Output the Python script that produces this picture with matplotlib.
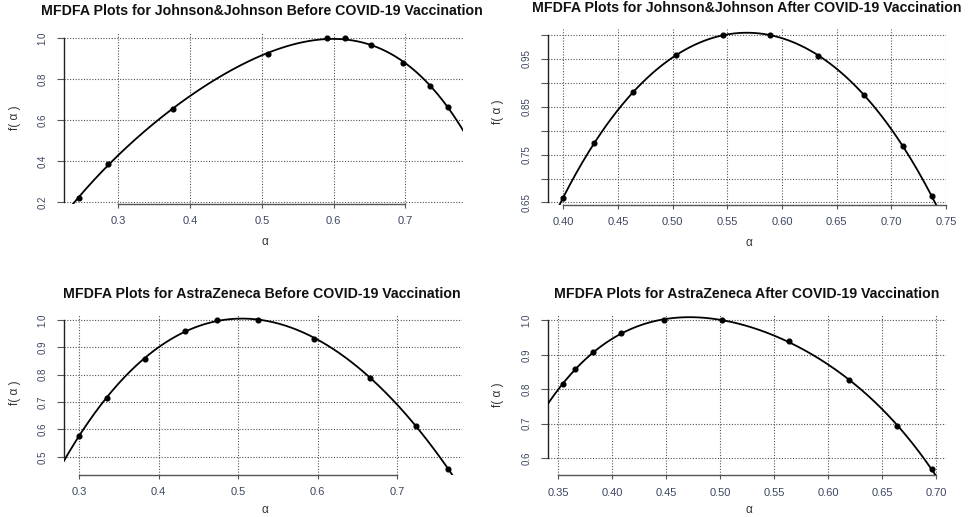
import numpy as np
import matplotlib
matplotlib.use("Agg")
import matplotlib.pyplot as plt

plt.rcParams['font.family'] = ['Liberation Sans', 'DejaVu Sans']

W, H = 970, 517

# ---------------- data ----------------
titles = [
    "MFDFA Plots for Johnson&Johnson Before COVID-19 Vaccination",
    "MFDFA Plots for Johnson&Johnson After COVID-19 Vaccination",
    "MFDFA Plots for AstraZeneca Before COVID-19 Vaccination",
    "MFDFA Plots for AstraZeneca After COVID-19 Vaccination",
]

jj_before_alpha = [0.245, 0.286, 0.376, 0.509, 0.591, 0.616, 0.652, 0.696, 0.734, 0.7595]
jj_before_f = [0.221, 0.384, 0.655, 0.922, 1.0, 1.0, 0.964, 0.880, 0.766, 0.663]

jj_after_alpha = [0.3994, 0.4284, 0.4637, 0.503, 0.546, 0.5893, 0.6332, 0.6749, 0.7104, 0.7369]
jj_after_f = [0.659, 0.774, 0.881, 0.958, 1.0, 1.0, 0.957, 0.8745, 0.769, 0.6626]

az_before_alpha = [0.300, 0.3348, 0.3834, 0.4328, 0.4738, 0.5253, 0.5949, 0.6657, 0.7239, 0.7632]
az_before_f = [0.578, 0.7153, 0.859, 0.960, 1.0, 1.0, 0.932, 0.7895, 0.6144, 0.4574]

az_after_alpha = [0.3543, 0.3658, 0.3824, 0.4081, 0.4476, 0.502, 0.5635, 0.6191, 0.6642, 0.696]
az_after_f = [0.814, 0.8596, 0.909, 0.962, 1.0, 1.0, 0.940, 0.8266, 0.694, 0.567]

xticks_list = [
    [0.3, 0.4, 0.5, 0.6, 0.7],
    [0.40, 0.45, 0.50, 0.55, 0.60, 0.65, 0.70, 0.75],
    [0.3, 0.4, 0.5, 0.6, 0.7],
    [0.35, 0.40, 0.45, 0.50, 0.55, 0.60, 0.65, 0.70],
]
xticklabels_list = [
    ["0.3", "0.4", "0.5", "0.6", "0.7"],
    ["0.40", "0.45", "0.50", "0.55", "0.60", "0.65", "0.70", "0.75"],
    ["0.3", "0.4", "0.5", "0.6", "0.7"],
    ["0.35", "0.40", "0.45", "0.50", "0.55", "0.60", "0.65", "0.70"],
]
yticks_list = [
    [0.2, 0.4, 0.6, 0.8, 1.0],
    [0.65, 0.70, 0.75, 0.80, 0.85, 0.90, 0.95, 1.00],
    [0.5, 0.6, 0.7, 0.8, 0.9, 1.0],
    [0.6, 0.7, 0.8, 0.9, 1.0],
]
yticklabels_list = [
    ["0.2", "0.4", "0.6", "0.8", "1.0"],
    ["0.65", "", "0.75", "", "0.85", "", "0.95", ""],
    ["0.5", "0.6", "0.7", "0.8", "0.9", "1.0"],
    ["0.6", "0.7", "0.8", "0.9", "1.0"],
]

series = [
    (jj_before_alpha, jj_before_f),
    (jj_after_alpha, jj_after_f),
    (az_before_alpha, az_before_f),
    (az_after_alpha, az_after_f),
]

# ---------------- layout (pixels) ----------------
# (left, top, right, bottom) of plotting region
boxes = [
    (64, 31.6, 463, 204),
    (548, 28.6, 946.5, 204.7),
    (64.3, 314, 462.3, 474.5),
    (548.2, 314.4, 946.5, 475.3),
]
title_pos = [(262, 11), (747, 8), (262, 294), (747, 294)]
ylab_pos = [(15, 118), (498, 112), (15, 393), (498, 395)]
xlab_pos = [(265, 242), (749, 243), (265, 510), (749, 510)]

fig = plt.figure(figsize=(W / 100, H / 100), dpi=100)
fig.patch.set_facecolor('white')

tick_col = '#3c4660'
txt_col = '#333333'

for i in range(4):
    l, t, r, b = boxes[i]
    ax = fig.add_axes([l / W, 1 - b / H, (r - l) / W, (b - t) / H])
    a = np.array(series[i][0])
    f = np.array(series[i][1])
    xr = a.max() - a.min()
    yr = f.max() - f.min()
    xlim = (a.min() - 0.04 * xr, a.max() + 0.04 * xr)
    ylim = (f.min() - 0.04 * yr, f.max() + 0.04 * yr)

    # fitted spectrum curve
    coef = np.polyfit(a, f, 4)
    xx = np.linspace(xlim[0] - 0.05, xlim[1] + 0.05, 400)
    ax.plot(xx, np.polyval(coef, xx), color='black', lw=1.3, zorder=3)
    ax.plot(a, f, 'o', color='black', ms=3.4, zorder=4)

    ax.set_xlim(xlim)
    ax.set_ylim(ylim)
    ax.set_xticks(xticks_list[i])
    ax.set_xticklabels(xticklabels_list[i])
    ax.set_yticks(yticks_list[i])
    ax.set_yticklabels(yticklabels_list[i], rotation=90, va='center')

    ax.grid(True, color='#555555', linestyle=(0, (1, 1.5)), lw=0.8, zorder=1)
    for s in ['top', 'right']:
        ax.spines[s].set_visible(False)
    ax.spines['left'].set_bounds(yticks_list[i][0], yticks_list[i][-1])
    ax.spines['bottom'].set_bounds(xticks_list[i][0], xticks_list[i][-1])
    ax.spines['left'].set_color('#222222')
    ax.spines['bottom'].set_color('#555555')
    ax.spines['left'].set_linewidth(1.0)
    ax.spines['bottom'].set_linewidth(1.0)
    ax.tick_params(axis='x', length=3, width=0.8, color='#555555',
                   labelsize=8, labelcolor=tick_col, pad=6)
    ax.tick_params(axis='y', length=5, width=0.8, color='#555555',
                   labelsize=7, labelcolor=tick_col, pad=7)
    ax.set_facecolor('none')

    fig.text(title_pos[i][0] / W, 1 - title_pos[i][1] / H, titles[i],
             ha='center', va='center', fontsize=10.2, fontweight='bold', color='#111111')
    fig.text(ylab_pos[i][0] / W, 1 - ylab_pos[i][1] / H, "f( α )",
             ha='center', va='center', rotation=90, fontsize=8.5, color=txt_col)
    fig.text(xlab_pos[i][0] / W, 1 - xlab_pos[i][1] / H, "α",
             ha='center', va='center', fontsize=8.5, color=txt_col)

fig.savefig("out.png", dpi=100, facecolor='white')
